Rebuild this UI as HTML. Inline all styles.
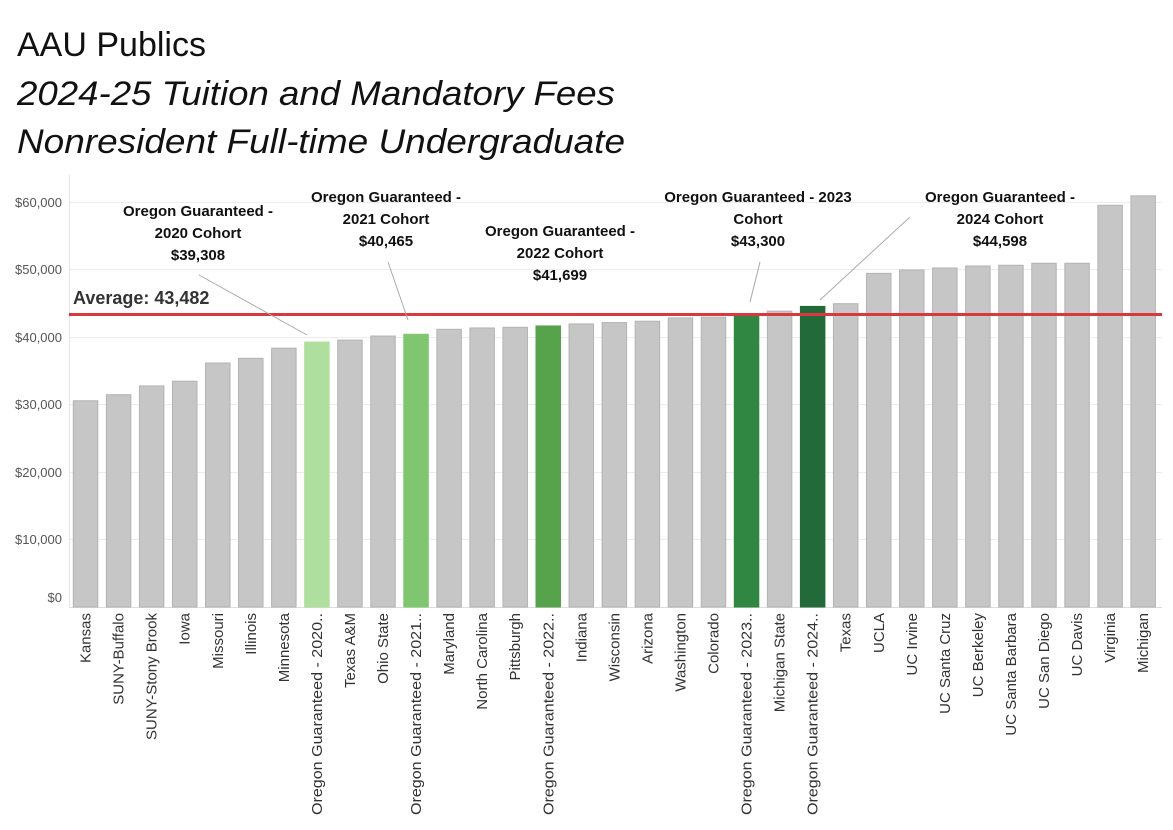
<!DOCTYPE html>
<html><head><meta charset="utf-8"><style>
html,body{margin:0;padding:0;background:#fff;}
svg{display:block;font-family:"Liberation Sans",sans-serif;}
</style></head><body>
<svg width="1173" height="830" viewBox="0 0 1173 830" xmlns="http://www.w3.org/2000/svg">
<text x="17" y="56" font-size="34" fill="#111">AAU Publics</text>
<text x="17" y="105" font-size="34" font-style="italic" fill="#111" textLength="598" lengthAdjust="spacingAndGlyphs">2024-25 Tuition and Mandatory Fees</text>
<text x="17" y="153" font-size="34" font-style="italic" fill="#111" textLength="608" lengthAdjust="spacingAndGlyphs">Nonresident Full-time Undergraduate</text>
<g stroke="#ececec" stroke-width="1">
<line x1="69" x2="1162" y1="202.5" y2="202.5"/><line x1="69" x2="1162" y1="269.5" y2="269.5"/>
<line x1="69" x2="1162" y1="337.5" y2="337.5"/><line x1="69" x2="1162" y1="404.5" y2="404.5"/>
<line x1="69" x2="1162" y1="472.5" y2="472.5"/><line x1="69" x2="1162" y1="539.5" y2="539.5"/>
</g>
<line x1="69.5" x2="69.5" y1="175" y2="607" stroke="#e4e4e4"/>
<line x1="69" x2="1162" y1="607.5" y2="607.5" stroke="#ddd"/>
<g font-size="13" fill="#555" text-anchor="end">
<text x="62" y="207">$60,000</text><text x="62" y="274">$50,000</text><text x="62" y="342">$40,000</text>
<text x="62" y="409">$30,000</text><text x="62" y="477">$20,000</text><text x="62" y="544">$10,000</text>
<text x="62" y="602">$0</text></g>
<g id="bars" stroke-width="1"></g>
<g id="labels" font-size="15" fill="#333"></g>
<line x1="69" x2="1162" y1="314.5" y2="314.5" stroke="#d9383f" stroke-width="3"/>
<text x="73" y="304" font-size="18" font-weight="bold" fill="#333">Average: 43,482</text>
<g stroke="#aaa" stroke-width="1">
<line x1="199" y1="275" x2="307" y2="335"/>
<line x1="388" y1="262" x2="408" y2="320"/>
<line x1="760" y1="262" x2="750" y2="302"/>
<line x1="910" y1="217" x2="820" y2="300"/>
</g>
<g font-size="15" font-weight="bold" fill="#111" text-anchor="middle">
<text x="198" y="216">Oregon Guaranteed -</text><text x="198" y="238">2020 Cohort</text><text x="198" y="260">$39,308</text>
<text x="386" y="202">Oregon Guaranteed -</text><text x="386" y="224">2021 Cohort</text><text x="386" y="246">$40,465</text>
<text x="560" y="236">Oregon Guaranteed -</text><text x="560" y="258">2022 Cohort</text><text x="560" y="280">$41,699</text>
<text x="758" y="202">Oregon Guaranteed - 2023</text><text x="758" y="224">Cohort</text><text x="758" y="246">$43,300</text>
<text x="1000" y="202">Oregon Guaranteed -</text><text x="1000" y="224">2024 Cohort</text><text x="1000" y="246">$44,598</text>
</g>
</svg>
<script>
var d=[["Kansas",30600],["SUNY-Buffalo",31500],["SUNY-Stony Brook",32800],["Iowa",33500],["Missouri",36200],["Illinois",36900],["Minnesota",38400],["Oregon Guaranteed - 2020..",39308,"#afdf9f"],["Texas A&M",39600],["Ohio State",40200],["Oregon Guaranteed - 2021..",40465,"#80c570"],["Maryland",41200],["North Carolina",41400],["Pittsburgh",41500],["Oregon Guaranteed - 2022..",41699,"#56a34c"],["Indiana",42000],["Wisconsin",42200],["Arizona",42400],["Washington",42900],["Colorado",43000],["Oregon Guaranteed - 2023..",43300,"#2f8741"],["Michigan State",43900],["Oregon Guaranteed - 2024..",44598,"#236a3a"],["Texas",45000],["UCLA",49500],["UC Irvine",50000],["UC Santa Cruz",50300],["UC Berkeley",50600],["UC Santa Barbara",50700],["UC San Diego",51000],["UC Davis",51000],["Virginia",59600],["Michigan",61000]];
var ns="http://www.w3.org/2000/svg",B=document.getElementById("bars"),L=document.getElementById("labels");
d.forEach(function(r,i){var x=73.3+i*33.05,h=r[1]*0.00674,c=r[2]||"#c6c6c6";
var e=document.createElementNS(ns,"rect");e.setAttribute("x",x);e.setAttribute("y",607-h);e.setAttribute("width",24.5);e.setAttribute("height",h);e.setAttribute("fill",c);e.setAttribute("stroke",r[2]?c:"#b3b3b3");B.appendChild(e);
var t=document.createElementNS(ns,"text");var cx=x+12.25+5;t.setAttribute("transform","translate("+cx+",613) rotate(-90)");t.setAttribute("text-anchor","end");
if(r[2]){t.setAttribute("textLength","202");t.setAttribute("lengthAdjust","spacingAndGlyphs");}
t.textContent=r[0];L.appendChild(t);});
</script>
</body></html>
